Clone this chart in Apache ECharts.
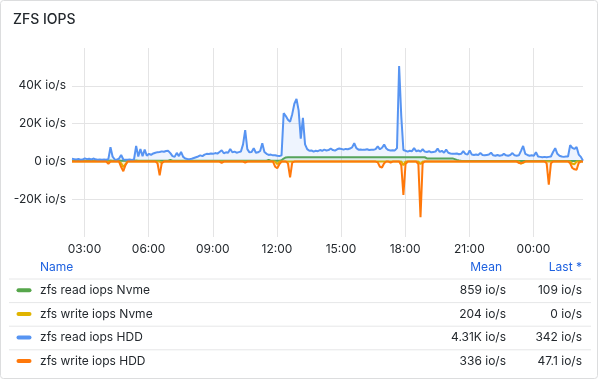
<!DOCTYPE html>
<html>
<head>
<meta charset="utf-8">
<script src="https://cdn.jsdelivr.net/npm/echarts@6/dist/echarts.min.js"></script>
<style>
  html, body { margin: 0; padding: 0; background: #ffffff; }
  #chart { width: 600px; height: 380px; }
</style>
</head>
<body>
<div id="chart"></div>
<script>
// ---- data (values in thousands of io/s), sampled every 6 minutes from 02:25 ----
const dayStart = new Date(2024, 4, 10, 0, 0).getTime();
const startTime = new Date(2024, 4, 10, 2, 25).getTime();
const stepMs = 6 * 60 * 1000;
const xTickHours = [3, 6, 9, 12, 15, 18, 21, 24];   // 03:00 ... 00:00 (next day)

const readNvme = [
  0.4,0.35,0.4,0.35,0.4,0.45,0.4,0.35,0.4,0.35,
  0.4,0.35,0.4,0.4,0.35,0.4,0.35,0.4,0.45,0.4,
  0.35,0.4,0.45,0.4,0.35,0.4,0.35,0.4,0.35,0.4,
  0.45,0.4,0.35,0.4,0.35,0.4,0.4,0.35,0.4,0.35,
  0.4,0.35,0.4,0.35,0.4,0.35,0.8,0.4,0.35,0.4,
  0.35,0.4,0.35,0.4,0.35,0.4,0.35,0.4,0.35,0.4,
  0.35,0.4,0.35,0.4,0.35,0.4,0.35,0.4,0.35,0.4,
  0.35,0.4,0.35,0.4,0.35,0.4,0.35,0.4,0.35,0.4,
  0.35,0.4,0.35,0.4,0.35,0.4,0.35,0.4,0.35,0.4,
  0.35,0.4,0.8,0.4,0.35,0.4,0.35,0.4,0.6,1.5,
  2.1,2.2,2.2,2.2,2.2,2.2,2.2,2.2,2.2,2.2,
  2.2,2.2,2.2,2.2,2.2,2.2,2.2,2.2,2.2,2.2,
  2.2,2.2,2.2,2.2,2.2,2.2,2.2,2.2,2.2,2.2,
  2.2,2.2,2.2,2.2,2.2,2.2,2.2,2.2,2.2,2.2,
  2.2,2.2,2.2,2.2,2.2,2.2,2.2,2.2,2.2,2.2,
  2.2,2.2,2.2,2.2,2.2,2.2,2.2,2.2,2.2,2.2,
  2.2,2.2,2.2,2.2,2.2,2.2,1.6,1.6,1.6,1.6,
  1.6,1.6,1.6,1.6,1.6,1.6,1.6,1.6,1.6,1.2,
  0.8,0.5,0.3,0.25,0.25,0.25,0.25,0.25,0.25,0.25,
  0.25,0.25,0.25,0.25,0.25,0.25,0.25,0.25,0.25,0.25,
  0.25,0.25,0.25,0.25,0.25,0.25,0.25,0.25,0.25,0.25,
  0.25,0.25,0.25,0.25,0.25,0.25,0.25,0.25,0.25,0.25,
  0.25,0.25,0.25,0.25,0.25,0.25,0.25,0.25,0.25,0.25,
  0.25,0.25,0.25,0.25,0.25,0.25,0.25,0.25,0.2,0.109
];

const writeNvme = [
  -0.1,-0.1,-0.1,-0.1,-0.1,-0.1,-0.1,-0.1,-0.1,-0.1,
  -0.1,-0.1,-0.1,-0.1,-0.1,-0.1,-0.1,-0.1,-0.1,-0.1,
  -0.1,-0.1,-0.1,-1.0,-3.0,-1.5,-0.1,-0.1,-0.1,-0.1,
  -0.1,-0.1,-0.1,-0.1,-0.1,-0.1,-0.1,-0.1,-0.1,-0.1,
  -0.1,-0.1,-0.8,-0.1,-0.1,-0.1,-0.1,-0.1,-0.1,-0.1,
  -0.1,-0.1,-0.1,-0.1,-0.1,-0.1,-0.1,-0.1,-0.1,-0.1,
  -0.1,-0.1,-0.1,-0.1,-0.1,-0.1,-0.1,-0.1,-0.1,-0.1,
  -0.1,-0.1,-0.1,-0.1,-0.1,-0.1,-0.1,-0.1,-0.1,-0.1,
  -0.1,-0.1,-0.1,-0.1,-0.1,-0.1,-0.1,-0.1,-0.1,-0.1,
  -0.1,-0.1,-0.1,-0.1,-0.1,-0.1,-1.5,-0.1,-0.1,-0.1,
  -0.1,-0.1,-0.1,-0.1,-0.1,-0.1,-0.1,-0.1,-0.1,-0.1,
  -0.1,-0.1,-0.1,-0.1,-0.1,-0.1,-0.1,-0.1,-0.1,-0.1,
  -0.1,-0.1,-0.1,-0.1,-0.1,-0.1,-0.1,-0.1,-0.1,-0.1,
  -0.1,-0.1,-0.1,-0.1,-0.1,-0.1,-0.1,-0.1,-0.1,-0.1,
  -0.1,-0.1,-0.1,-0.1,-0.1,-0.1,-0.1,-0.1,-0.1,-0.1,
  -0.1,-0.1,-0.1,-0.1,-0.1,-2.0,-0.1,-0.1,-0.1,-0.1,
  -0.1,-0.1,-0.1,-1.5,-0.1,-0.1,-0.1,-0.1,-0.1,-0.1,
  -0.1,-0.1,-0.1,-0.1,-0.1,-0.1,-0.1,-0.1,-0.1,-0.1,
  -0.1,-0.1,-0.1,-0.1,-0.1,-0.1,-0.1,-0.1,-0.1,-0.1,
  -0.1,-0.1,-0.1,-0.1,-0.1,-0.1,-0.1,-0.1,-0.1,-0.1,
  -0.1,-0.1,-0.1,-0.1,-0.1,-0.1,-0.1,-0.1,-0.1,-0.1,
  -1.2,-0.8,-0.1,-0.1,-0.1,-0.1,-0.1,-0.1,-0.1,-0.1,
  -0.1,-0.1,-0.1,-0.1,-0.1,-0.1,-0.1,-0.1,-0.1,-0.1,
  -0.1,-0.1,-0.1,-0.1,-1.2,-1.5,-0.1,-0.1,-0.1,0
];

const readHdd = [
  1.4,1.2,1.0,1.3,0.9,1.0,1.6,1.2,1.4,1.0,
  1.5,1.1,0.9,1.0,0.9,1.0,0.9,1.2,7.5,2.5,
  1.0,0.9,1.5,3.4,1.0,0.9,0.9,1.0,0.8,1.0,
  8.2,2.6,6.6,2.8,6.2,3.0,4.0,3.5,4.2,4.6,
  4.9,5.0,5.3,5.1,5.5,5.6,4.4,2.8,2.4,4.5,
  2.8,5.0,2.4,1.5,1.3,1.2,1.4,1.8,2.2,2.6,
  3.2,2.8,3.6,4.0,3.9,4.2,4.0,4.4,4.1,5.0,
  5.9,4.3,4.8,4.6,6.6,4.8,5.2,4.6,4.9,5.2,
  9.0,16.5,6.5,4.8,5.0,7.0,4.6,4.8,5.5,9.6,
  5.0,4.0,3.4,3.6,3.2,3.3,3.0,2.8,3.2,25.5,
  24.0,22.0,21.0,25.0,30.5,33.0,27.0,12.0,23.0,9.0,
  6.5,5.6,5.8,5.2,5.6,5.4,6.0,5.6,6.2,5.8,
  6.0,6.8,6.0,5.7,6.4,6.8,6.6,6.2,6.6,6.4,
  6.8,7.4,9.6,7.0,6.2,6.3,6.1,6.2,6.4,6.0,
  6.2,6.1,6.5,8.0,6.4,7.2,8.9,6.8,6.0,5.8,
  5.9,5.8,7.0,50.5,24.0,6.0,5.6,5.2,5.6,5.4,
  7.0,5.4,5.8,5.2,6.4,5.2,5.0,5.4,4.8,5.0,
  5.2,6.8,5.0,5.6,4.6,6.2,4.6,4.2,4.0,4.0,
  4.2,3.8,4.0,5.4,4.0,3.6,5.8,3.6,3.4,3.6,
  3.4,4.4,3.4,3.2,3.4,3.6,4.6,3.2,3.0,3.4,
  3.0,3.2,4.0,3.2,3.0,3.4,4.4,3.2,3.0,3.2,
  5.6,8.2,4.0,3.4,3.0,3.2,3.0,4.9,2.6,2.4,
  2.2,2.4,2.2,2.4,2.6,5.0,7.0,4.0,3.0,2.6,
  2.4,2.6,2.6,8.6,7.2,6.6,7.6,3.6,2.4,0.342
];

const writeHdd = [
  -0.1,-0.1,-0.1,-0.1,-0.1,-0.1,-0.1,-0.1,-0.1,-0.1,
  -0.1,-0.1,-0.1,-0.1,-0.1,-0.1,-0.1,-1.2,-0.1,-0.1,
  -0.1,-0.1,-0.1,-3.0,-5.2,-2.0,-0.1,-0.1,-0.1,-0.1,
  -0.1,-0.1,-0.1,-0.1,-0.1,-0.1,-0.1,-0.1,-0.1,-0.1,
  -1.0,-7.4,-0.8,-0.1,-0.1,-0.1,-0.1,-0.1,-0.1,-0.1,
  -0.1,-0.1,-0.1,-0.1,-0.1,-0.1,-0.1,-0.1,-0.1,-0.1,
  -0.1,-0.1,-0.1,-0.1,-0.1,-0.1,-0.1,-0.1,-0.1,-0.1,
  -0.8,-0.1,-0.1,-0.1,-0.1,-0.1,-0.1,-0.1,-0.1,-0.1,
  -0.1,-0.7,-0.1,-0.1,-0.1,-0.1,-0.1,-0.1,-0.1,-0.1,
  -0.1,-0.1,-0.1,-0.1,-0.1,-2.8,-3.6,-1.5,-0.1,-0.1,
  -0.1,-1.0,-8.4,-0.6,-0.1,-0.1,-0.1,-0.1,-0.1,-0.1,
  -0.1,-0.1,-0.1,-0.1,-0.1,-0.1,-0.1,-0.1,-0.1,-0.1,
  -0.1,-0.1,-0.1,-0.1,-0.1,-0.1,-0.1,-0.1,-0.1,-0.1,
  -0.1,-0.1,-0.1,-0.1,-0.1,-0.1,-0.1,-0.1,-0.1,-0.1,
  -0.1,-0.1,-0.1,-0.5,-2.8,-3.2,-1.0,-0.1,-0.1,-0.6,
  -0.1,-0.1,-0.1,-0.1,-2.0,-17.8,-1.5,-0.1,-0.1,-0.1,
  -0.1,-0.1,-1.5,-29.5,-1.0,-0.1,-0.1,-0.1,-0.1,-0.1,
  -0.1,-0.1,-0.1,-0.1,-0.1,-0.1,-0.1,-0.1,-0.1,-0.1,
  -0.1,-0.1,-0.1,-0.1,-0.1,-0.1,-0.1,-0.1,-0.1,-0.1,
  -0.1,-0.1,-0.1,-0.1,-0.1,-0.1,-0.1,-0.1,-0.1,-0.1,
  -0.1,-0.1,-0.1,-0.1,-0.1,-0.1,-0.1,-0.1,-0.1,-0.8,
  -1.0,-0.5,-0.1,-0.1,-0.1,-0.1,-0.1,-0.1,-0.1,-0.1,
  -0.1,-0.1,-1.0,-12.3,-1.0,-0.1,-0.1,-0.1,-0.1,-0.1,
  -0.1,-0.1,-0.1,-1.0,-3.5,-4.2,-4.4,-0.8,-0.1,-0.0471
];

const seriesNames = ['zfs read iops Nvme', 'zfs write iops Nvme', 'zfs read iops HDD', 'zfs write iops HDD'];
const seriesColors = ['#56A64B', '#E0B400', '#5794F2', '#FF780A'];
const meanLabels = ['859 io/s', '204 io/s', '4.31K io/s', '336 io/s'];
const lastLabels = ['109 io/s', '0 io/s', '342 io/s', '47.1 io/s'];
const legendHeaders = ['Name', 'Mean', 'Last *'];
const yTicks = { min: -40, max: 60, step: 20 };
const title = 'ZFS IOPS';

// ---- build chart ----
const seriesValues = [readNvme, writeNvme, readHdd, writeHdd];
const toPairs = arr => arr.map((v, i) => [startTime + i * stepMs, v]);
const endTime = startTime + (readHdd.length - 1) * stepMs;
const xTickValues = xTickHours.map(h => dayStart + h * 3600 * 1000);

const FONT = 'Inter, "Noto Sans", sans-serif';
const TEXT = '#24292E';
const HEADER = '#1F62E0';

const chart = echarts.init(document.getElementById('chart'), null, { renderer: 'canvas' });

const graphics = [];
graphics.push({
  type: 'rect', silent: true, z: 100,
  shape: { x: 0.5, y: 0.5, width: 597, height: 378, r: 3 },
  style: { fill: 'none', stroke: '#DCDDDE', lineWidth: 1 }
});
graphics.push({ type: 'text', x: 40, y: 267, style: { text: legendHeaders[0], fill: HEADER, font: '12px ' + FONT, textVerticalAlign: 'middle', verticalAlign: 'middle' } });
graphics.push({ type: 'text', x: 502, y: 267, style: { text: legendHeaders[1], fill: HEADER, font: '12px ' + FONT, align: 'right', textAlign: 'right', verticalAlign: 'middle', textVerticalAlign: 'middle' } });
graphics.push({ type: 'text', x: 582, y: 267, style: { text: legendHeaders[2], fill: HEADER, font: '12px ' + FONT, align: 'right', textAlign: 'right', verticalAlign: 'middle', textVerticalAlign: 'middle' } });

const rowY0 = 290.3, rowDy = 23.6;
for (let k = 0; k < seriesNames.length; k++) {
  const cy = rowY0 + k * rowDy;
  graphics.push({ type: 'line', silent: true, shape: { x1: 9, y1: cy - 11.8 + 0.5, x2: 591, y2: cy - 11.8 + 0.5 }, style: { stroke: '#E6E7E8', lineWidth: 1 } });
  graphics.push({ type: 'line', silent: true, shape: { x1: 18.5, y1: cy, x2: 29.5, y2: cy }, style: { stroke: seriesColors[k], lineWidth: 4, lineCap: 'round' } });
  graphics.push({ type: 'text', x: 40, y: cy, style: { text: seriesNames[k], fill: TEXT, font: '12px ' + FONT, verticalAlign: 'middle', textVerticalAlign: 'middle' } });
  graphics.push({ type: 'text', x: 506, y: cy, style: { text: meanLabels[k], fill: TEXT, font: '12px ' + FONT, align: 'right', textAlign: 'right', verticalAlign: 'middle', textVerticalAlign: 'middle' } });
  graphics.push({ type: 'text', x: 582, y: cy, style: { text: lastLabels[k], fill: TEXT, font: '12px ' + FONT, align: 'right', textAlign: 'right', verticalAlign: 'middle', textVerticalAlign: 'middle' } });
}

const option = {
  animation: false,
  backgroundColor: '#ffffff',
  textStyle: { fontFamily: FONT },
  title: {
    text: title, left: 8, top: 8,
    textStyle: { fontFamily: FONT, fontSize: 14, fontWeight: 500, color: TEXT }
  },
  grid: { left: 72, right: 17, top: 48, bottom: 143, containLabel: false, outerBoundsMode: 'none' },
  xAxis: {
    type: 'time',
    min: startTime, max: endTime,
    axisLine: { show: false },
    axisTick: { show: false, customValues: xTickValues },
    splitLine: { show: true, lineStyle: { color: '#E4E4E5', width: 1 } },
    axisLabel: { customValues: xTickValues, formatter: '{HH}:{mm}', color: TEXT, fontSize: 12, fontFamily: FONT, margin: 6 }
  },
  yAxis: {
    type: 'value',
    min: yTicks.min, max: yTicks.max, interval: yTicks.step,
    axisLine: { show: false }, axisTick: { show: false },
    splitLine: { show: true, showMinLine: false, showMaxLine: false, lineStyle: { color: '#E4E4E5', width: 1 } },
    axisLabel: {
      showMinLabel: false, showMaxLabel: false,
      color: TEXT, fontSize: 12, fontFamily: FONT, margin: 6,
      formatter: v => (v === 0 ? '0 io/s' : v + 'K io/s')
    }
  },
  series: seriesValues.map((vals, k) => ({
    name: seriesNames[k],
    type: 'line',
    data: toPairs(vals),
    showSymbol: false,
    symbol: 'none',
    lineStyle: { color: seriesColors[k], width: 2 },
    itemStyle: { color: seriesColors[k] },
    areaStyle: { color: seriesColors[k], opacity: 0.1 },
    z: 2 + k
  })),
  graphic: graphics
};

chart.setOption(option);
</script>
</body>
</html>
